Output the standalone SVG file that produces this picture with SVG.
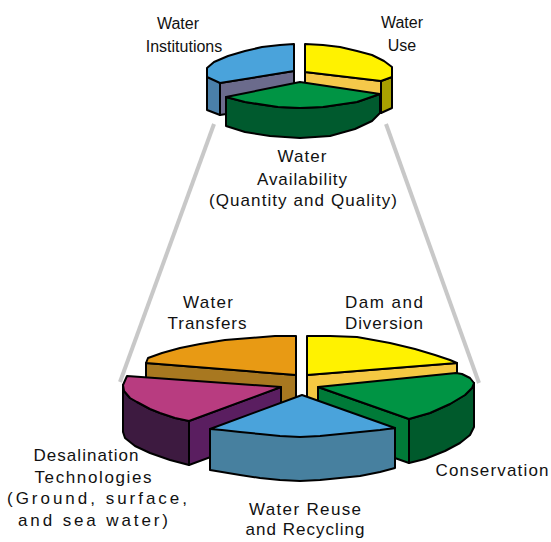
<svg xmlns="http://www.w3.org/2000/svg" width="551" height="542" viewBox="0 0 551 542">
<style>
.o{stroke:#000;stroke-width:2;stroke-linejoin:round}
.t{font-family:"Liberation Sans",Arial,sans-serif;font-size:17px;fill:#111}
.s{font-size:16px}
.m{text-anchor:middle}
.ln{stroke:#c8c8c8;stroke-width:4;fill:none}
</style>
<rect width="551" height="542" fill="#fff"/>
<g id="connectors">
<line class="ln" x1="214" y1="124" x2="120" y2="382"/>
<line class="ln" x1="386" y1="124" x2="479" y2="383"/>
</g>
<!-- top pie -->
<g id="water-institutions">
<path class="o" fill="#4a7fa8" d="M207,75 L220,83 L220,115 L207,110 Z"/>
<path class="o" fill="#6b6b8c" d="M220,83 L294,71 L294,103 L220,115 Z"/>
<path class="o" fill="#4aa3db" d="M294,44 L294,71 L220,83 L207,77 L207,68 L214,62 L228,56 L245,51 L262,47 L280,45 Z"/>
<text class="t s m" x="178" y="29">Water</text>
<text class="t s m" x="184" y="52">Institutions</text>
</g>
<g id="water-use">
<path class="o" fill="#f5c84a" d="M305,72 L381,81 L381,113 L305,104 Z"/>
<path class="o" fill="#a8a000" d="M381,81 L392,77 L392,108 L381,113 Z"/>
<path class="o" fill="#fff200" d="M305,44 L323,45 L340,47 L357,51 L372,55 L384,61 L392,67 L392,77 L381,81 L305,72 Z"/>
<text class="t s m" x="402" y="28">Water</text>
<text class="t s m" x="402" y="51">Use</text>
</g>
<g id="water-availability">
<path class="o" fill="#005a2e" d="M226,97 L245,102 L278,107 L300,108 L323,107 L357,102 L380,94 L380,113 L372,121 L355,129 L330,136 L300,138 L270,136 L245,132 L226,126 Z"/>
<path class="o" fill="#009444" d="M226,97 L300,82 L380,94 L357,102 L323,107 L300,108 L278,107 L245,102 Z"/>
<text class="t m" x="302" y="162" textLength="49">Water</text>
<text class="t m" x="302" y="185" textLength="90">Availability</text>
<text class="t m" x="303" y="206" textLength="188">(Quantity and Quality)</text>
</g>
<!-- bottom pie -->
<g id="water-transfers">
<path class="o" fill="#a87820" d="M146,363 L296,375 L296,418 L146,406 Z"/>
<path class="o" fill="#e89a14" d="M296,336 L296,375 L146,363 L148,358 L162,353 L180,348 L200,344 L225,340 L250,338 L275,336 Z"/>
<text class="t m" x="208" y="308" textLength="50">Water</text>
<text class="t m" x="207" y="329" textLength="79">Transfers</text>
</g>
<g id="dam-and-diversion">
<path class="o" fill="#f5c842" d="M307,375 L457,363 L457,405 L307,417 Z"/>
<path class="o" fill="#fff200" d="M307,336 L330,336 L357,337 L390,343 L415,349 L435,355 L450,360 L457,363 L307,375 Z"/>
<text class="t m" x="384" y="308" textLength="78">Dam and</text>
<text class="t m" x="384" y="329" textLength="78">Diversion</text>
</g>
<g id="desalination">
<path class="o" fill="#3d1a40" d="M123,385 L124,391 L130,398 L137,402 L150,409 L160,413 L175,418 L189,421 L189,465 L170,460 L150,453 L135,446 L125,438 L123,432 Z"/>
<path class="o" fill="#5a1e60" d="M189,421 L281,387 L281,431 L189,465 Z"/>
<path class="o" fill="#b83c80" d="M127,376 L281,387 L189,421 L175,418 L160,413 L150,409 L137,402 L130,398 L124,391 L123,385 Z"/>
<text class="t m" x="86" y="461" textLength="105">Desalination</text>
<text class="t m" x="93" y="483" textLength="117">Technologies</text>
<text class="t m" x="97" y="504" textLength="180">(Ground, surface,</text>
<text class="t m" x="93" y="526" textLength="150">and sea water)</text>
</g>
<g id="conservation">
<path class="o" fill="#005a2c" d="M409,419 L430,413 L450,404 L465,395 L472,388 L474,383 L474,427 L470,435 L460,443 L445,451 L425,459 L409,463 Z"/>
<path class="o" fill="#007a38" d="M318,387 L409,419 L409,463 L318,431 Z"/>
<path class="o" fill="#009444" d="M318,387 L456,373 L462,374 L470,378 L474,383 L472,388 L465,395 L450,404 L430,413 L409,419 Z"/>
<text class="t m" x="492" y="476" textLength="113">Conservation</text>
</g>
<g id="water-reuse">
<path class="o" fill="#47809f" d="M210,429 L395,428 L395,468 L380,472 L360,476 L340,478 L320,480 L300,481 L280,480 L260,478 L240,475 L222,472 L210,470 Z"/>
<path class="o" fill="#4aa3db" d="M302,395 L395,428 L380,430 L360,432 L340,434 L320,436 L300,437 L280,436 L260,434 L240,432 L222,430 L210,429 Z"/>
<text class="t m" x="305" y="515" textLength="112">Water Reuse</text>
<text class="t m" x="305" y="535" textLength="119">and Recycling</text>
</g>
</svg>
